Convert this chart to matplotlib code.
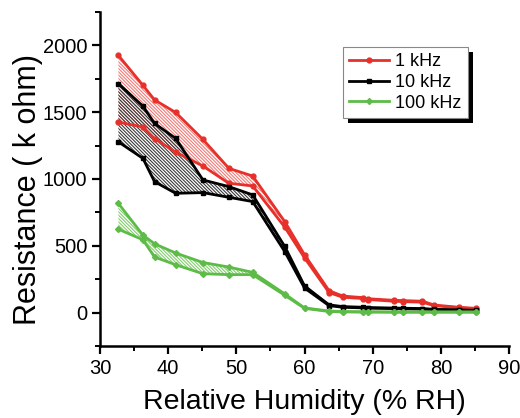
import matplotlib
matplotlib.use("Agg")
import matplotlib.pyplot as plt
from matplotlib.patches import Rectangle
from matplotlib.transforms import IdentityTransform
from matplotlib.ticker import MultipleLocator

plt.rcParams['font.family'] = ['Liberation Sans', 'DejaVu Sans']
plt.rcParams['hatch.linewidth'] = 0.8

# ---- data ----
rh = [32.7, 36.3, 38.0, 41.1, 45.1, 48.9, 52.4, 57.1, 60.0, 63.6, 65.6, 68.6,
      69.3, 73.1, 74.5, 77.3, 79.0, 82.6, 85.1]
labels = ["1 kHz", "10 kHz", "100 kHz"]
red_up = [1925, 1701, 1592, 1498, 1296, 1080, 1022, 681, 433, 164, 124, 112,
          104, 92, 90, 85, 57, 40, 32]
red_down = [1426, 1389, 1302, 1201, 1097, 968, 948, 640, 410, 150, 115, 105,
            98, 85, 82, 78, 52, 36, 28]
black_up = [1714, 1545, 1416, 1304, 993, 943, 881, 495, 200, 58, 45, 40,
            38, 34, 33, 30, 25, 20, 17]
black_down = [1278, 1154, 980, 893, 898, 863, 831, 457, 184, 52, 40, 35,
              33, 30, 28, 26, 22, 18, 15]
green_up = [817, 580, 515, 446, 375, 341, 301, 140, 35, 12, 8, 6,
            6, 5, 5, 5, 5, 5, 5]
green_down = [624, 545, 416, 358, 291, 284, 284, 130, 32, 8, 5, 4,
              4, 3, 3, 3, 3, 3, 3]
xticks = [30, 40, 50, 60, 70, 80, 90]
yticks = [0, 500, 1000, 1500, 2000]

RED = '#e8302b'
BLACK = '#000000'
GREEN = '#5dbb47'
series = [
    (red_up, red_down, RED, '#ef7d78', 'o', 3.5),
    (black_up, black_down, BLACK, '#3a3a3a', 's', 3.5),
    (green_up, green_down, GREEN, '#86cc72', 'D', 3.0),
]

fig = plt.figure(figsize=(5.2, 4.18), dpi=100)
ax = fig.add_axes([100/520, 72/418, 409/520, 334/418])

for up, down, c, hc, m, ms in series:
    ax.fill_between(rh, up, down, facecolor='none', edgecolor=hc,
                    linewidth=0, hatch='\\' * 10, zorder=1)

handles = []
for (up, down, c, hc, m, ms), lab in zip(series, labels):
    h, = ax.plot(rh, up, color=c, lw=2.0, marker=m, ms=ms, zorder=3, label=lab)
    ax.plot(rh, down, color=c, lw=2.0, marker=m, ms=ms, zorder=3)
    handles.append(h)

ax.set_xlim(30, 90)
ax.set_ylim(-250, 2250)
ax.set_xticks(xticks)
ax.set_yticks(yticks)
ax.xaxis.set_minor_locator(MultipleLocator(5))
ax.yaxis.set_minor_locator(MultipleLocator(250))
for s in ['top', 'right']:
    ax.spines[s].set_visible(False)
for s in ['left', 'bottom']:
    ax.spines[s].set_linewidth(1.8)
ax.tick_params(which='major', direction='out', length=6, width=1.6,
               labelsize=14.5, pad=3)
ax.tick_params(which='minor', direction='out', length=3.5, width=1.4)

ax.set_xlabel('Relative Humidity (% RH)', fontsize=20.5)
ax.set_ylabel('Resistance ( k ohm)', fontsize=22)
ax.xaxis.set_label_coords(0.5, -0.128)
ax.yaxis.set_label_coords(-0.14, 0.47)

leg = ax.legend(handles=handles, loc='upper left',
                bbox_to_anchor=(343/520, 1 - 47/418),
                bbox_transform=fig.transFigure, borderaxespad=0,
                fontsize=13, frameon=True, fancybox=False,
                handlelength=2.2, handletextpad=0.35, labelspacing=0.2,
                borderpad=0.35, framealpha=1)
leg.get_frame().set_edgecolor('#888888')
leg.get_frame().set_linewidth(0.8)
leg.set_zorder(6)

fig.canvas.draw()
bb = leg.get_window_extent()
shadow = Rectangle((bb.x0 + 5, bb.y0 - 5), bb.width, bb.height,
                   transform=IdentityTransform(), facecolor='black',
                   edgecolor='none', zorder=5.5, clip_on=False)
ax.add_patch(shadow)

fig.savefig('out.png', dpi=100)
